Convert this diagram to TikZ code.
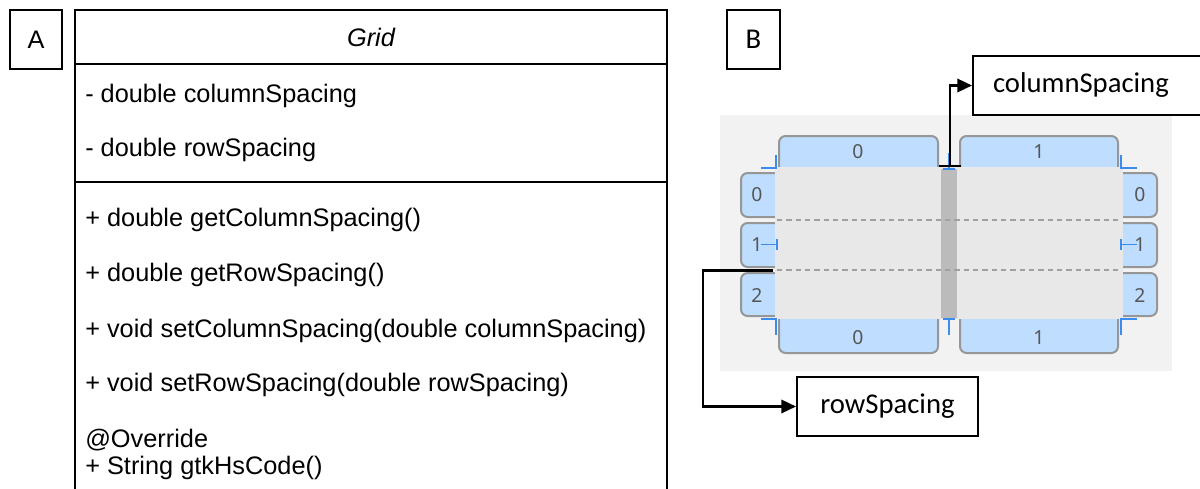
\documentclass[tikz,border=0pt]{standalone}
\usepackage{fontspec}
\setmainfont{Liberation Sans}
\newfontfamily\calib{Carlito}
\newfontfamily\uifont{Noto Sans}
\usetikzlibrary{arrows.meta}
\definecolor{bggray}{RGB}{242,242,242}
\definecolor{cellgray}{RGB}{232,232,232}
\definecolor{gapgray}{RGB}{187,187,187}
\definecolor{hdrfill}{RGB}{191,222,255}
\definecolor{hdrline}{RGB}{150,150,150}
\definecolor{mark}{RGB}{60,140,240}
\definecolor{dashc}{RGB}{160,160,160}
\definecolor{numc}{RGB}{85,85,85}
\tikzset{
  frame/.style={draw=black, line width=1.5pt},
  umltext/.style={font=\fontsize{19}{22}\selectfont, inner sep=0pt, anchor=base west},
  labelbox/.style={draw=black, line width=1.5pt, font=\calib\fontsize{21.5}{24}\selectfont, inner sep=0pt},
  hdr/.style={fill=hdrfill, draw=hdrline, line width=1.5pt, rounded corners=5pt},
  num/.style={font=\uifont\fontsize{14.5}{16}\selectfont, text=numc, inner sep=0pt},
  marker/.style={draw=mark, line width=1.2pt},
  conn/.style={draw=black, line width=1.8pt},
}
\begin{document}
\begin{tikzpicture}[x=0.75pt,y=-0.75pt]
\useasboundingbox (0,0) rectangle (1200,489);
% ---------- Panel A ----------
\node[frame, minimum width=52*0.75pt, minimum height=59*0.75pt, inner sep=0pt,
      font=\fontsize{19}{22}\selectfont] (A) at (36,39.5) {A};
\draw[frame] (75,495) -- (75,10) -- (667,10) -- (667,495);
\draw[frame] (75,64) -- (667,64);
\draw[frame] (75,182) -- (667,182);
\node[font=\fontsize{19}{22}\selectfont\itshape, inner sep=0pt, anchor=base] (title) at (371,46) {Grid};
\node[umltext] (a1) at (85,102) {- double columnSpacing};
\node[umltext] (a2) at (85,156) {- double rowSpacing};
\node[umltext] (m1) at (85,226) {+ double getColumnSpacing()};
\node[umltext] (m2) at (85,281) {+ double getRowSpacing()};
\node[umltext] (m3) at (85,337) {+ void setColumnSpacing(double columnSpacing)};
\node[umltext] (m4) at (85,391) {+ void setRowSpacing(double rowSpacing)};
\node[umltext] (m5) at (85,447) {@Override};
\node[umltext] (m6) at (85,474) {+ String gtkHsCode()};
% ---------- Panel B ----------
\node[labelbox, minimum width=53*0.75pt, minimum height=59*0.75pt] (B) at (753.5,39.5) {B};
\fill[bggray] (720,115) rectangle (1172,371);
% headers (drawn first, cell area covers inner sides)
\draw[hdr] (779,136) rectangle (938,178);
\draw[hdr] (960,136) rectangle (1118,178);
\draw[hdr] (779,310) rectangle (938,353);
\draw[hdr] (960,310) rectangle (1118,353);
\draw[hdr] (741,173) rectangle (787,217);
\draw[hdr] (741,223) rectangle (787,267);
\draw[hdr] (741,273) rectangle (787,316);
\draw[hdr] (1111,173) rectangle (1157,217);
\draw[hdr] (1111,223) rectangle (1157,267);
\draw[hdr] (1111,273) rectangle (1157,316);
% cell area
\fill[cellgray] (775,167) rectangle (1123,319);
\fill[gapgray] (941,169) rectangle (957,318);
\draw[dashc, line width=1.1pt, dash pattern=on 4pt off 3pt] (777,220) -- (1121,220);
\draw[dashc, line width=1.1pt, dash pattern=on 4pt off 3pt] (777,270) -- (1121,270);
% header numbers
\node[num] (t0) at (858,152) {0};
\node[num] (t1) at (1039,152) {1};
\node[num] (b0) at (858,338) {0};
\node[num] (b1) at (1039,338) {1};
\node[num] (l0) at (757,195) {0};
\node[num] (l1) at (757,245) {1};
\node[num] (l2) at (757,295) {2};
\node[num] (r0) at (1140,195) {0};
\node[num] (r1) at (1140,245) {1};
\node[num] (r2) at (1140,295) {2};
% blue markers
\draw[marker] (761,168) -- (776,168) -- (776,155);
\draw[marker] (1137,168) -- (1121,168) -- (1121,155);
\draw[marker] (761,319) -- (776,319) -- (776,335);
\draw[marker] (1137,319) -- (1121,319) -- (1121,335);
\draw[marker] (943,169) -- (955,169);
\draw[marker] (949,169) -- (949,153);
\draw[marker] (943,319) -- (955,319);
\draw[marker] (949,319) -- (949,335);
\draw[marker] (761,244.5) -- (777,244.5);
\draw[marker] (777,239) -- (777,250);
\draw[marker] (1121,244.5) -- (1137,244.5);
\draw[marker] (1121,239) -- (1121,250);
% label boxes and connectors
\node[labelbox, minimum width=230*0.75pt, minimum height=59*0.75pt, anchor=west] (col) at (972,85.5) {};
\node[labelbox, draw=none, anchor=west, inner sep=0pt] (coltext) at (992,85.5) {columnSpacing};
\node[labelbox, minimum width=181*0.75pt, minimum height=59*0.75pt] (row) at (887.5,406.5) {rowSpacing};
\coordinate (csStart) at (950,167);
\coordinate (rsStart) at (773,270.5);
\coordinate (rsBend) at (703,270.5);
\draw[conn, {Bar[width=17pt,line width=1.8pt]}-{Triangle[length=11pt,width=10pt]}] (csStart) |- (col.west);
\draw[conn, -{Triangle[length=11pt,width=10pt]}] (rsStart) -- (rsBend) |- (row.west);
\end{tikzpicture}
\end{document}
